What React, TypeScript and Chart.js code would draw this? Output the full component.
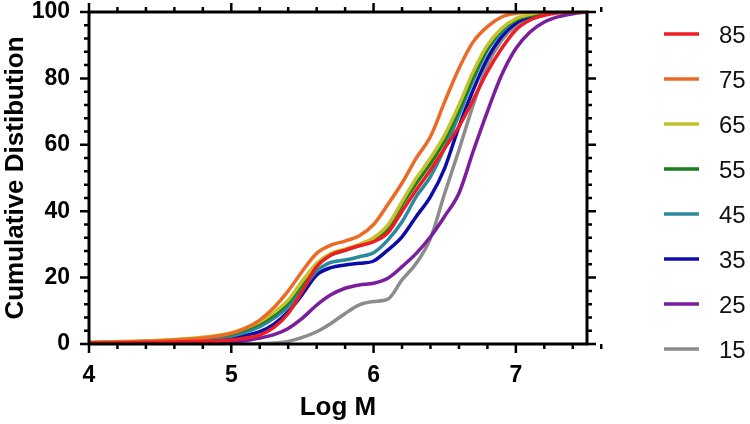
import React, { useEffect, useRef } from "react";
import { Chart, registerables } from "chart.js";

Chart.register(...registerables);

// Log M positions (x) shared by every series
const logM = [4.0, 4.5, 4.8, 5.0, 5.1, 5.2, 5.3, 5.4, 5.5, 5.6, 5.7, 5.8, 5.9, 6.0, 6.1, 6.2, 6.3, 6.4, 6.5, 6.6, 6.7, 6.8, 6.9, 7.0, 7.1, 7.2, 7.3, 7.4, 7.5];

const series85 = [0.3, 0.5, 0.8, 1.2, 1.8, 2.7, 5.0, 9.2, 16, 23.3, 26.8, 28.3, 29.6, 30.8, 33.5, 40, 46.4, 52.4, 59, 65.5, 73.5, 82, 89, 94.6, 97.6, 99, 99.8, 100, 100];
const series75 = [0.4, 1.0, 1.8, 3.2, 4.8, 7.2, 11, 16, 22, 27.3, 29.8, 31, 32.6, 36, 42, 48.5, 56, 62.5, 73, 83, 91, 95.6, 98.5, 99.6, 100, 100, 100, 100, 100];
const series65 = [0.5, 1.1, 2.0, 3.4, 4.8, 6.7, 9.5, 13.2, 19, 24.3, 27.3, 28.6, 30, 32, 35.8, 42.9, 49.9, 56, 63, 72, 82, 90, 95, 98, 99.3, 100, 100, 100, 100];
const series55 = [0.4, 1.0, 1.8, 3.0, 4.3, 6.2, 8.8, 12.5, 18, 23.5, 26.8, 28.2, 29.7, 31.3, 34.8, 41.9, 48.4, 54.4, 61.4, 70.5, 80.5, 89, 94.6, 97.6, 99, 99.8, 100, 100, 100];
const series45 = [0.4, 0.9, 1.5, 2.4, 3.6, 5.2, 7.8, 11.2, 16.5, 22, 24.6, 25.3, 26.3, 27.5, 31.3, 36.8, 44.4, 50.4, 59, 69, 79.5, 88.5, 94, 97.6, 99, 99.8, 100, 100, 100];
const series35 = [0.3, 0.7, 1.2, 1.9, 2.6, 3.7, 6, 9.7, 15, 20.8, 23, 23.8, 24.3, 25, 28.3, 32.3, 38.4, 44.4, 53, 65.5, 76.5, 86, 92.6, 96.6, 98.6, 99.6, 100, 100, 100];
const series25 = [0.2, 0.3, 0.5, 0.7, 1.0, 1.8, 2.8, 4.7, 7.8, 11.7, 14.8, 16.8, 17.8, 18.3, 19.8, 23.3, 27.3, 32.3, 38.5, 45.4, 58, 70, 81, 89, 94, 97, 98.6, 99.5, 100];
const series15 = [0, 0, 0, 0, 0, 0.1, 0.3, 0.8, 2, 3.7, 6.2, 9.2, 11.8, 12.8, 13.5, 19.3, 24.3, 31.8, 45.4, 58.4, 72, 84, 91.5, 96, 98.5, 99.6, 100, 100, 100];

const seriesLabels = ["85", "75", "65", "55", "45", "35", "25", "15"];
const seriesValues = [series85, series75, series65, series55, series45, series35, series25, series15];
const seriesColors = ["#ee1c24", "#ec6a26", "#c4c22c", "#1b7e1b", "#2a8a9e", "#0c0ca8", "#7a1e9e", "#8c8c8c"];

const xMin = 4;
const xMax = 7.5;
const xMajorStep = 1;
const xMinorStep = 0.2;
const yMin = 0;
const yMax = 100;
const yMajorStep = 20;
const yMinorStep = 4;

const FONT = '"Liberation Sans", Arial, Helvetica, sans-serif';

const framePlugin = {
  id: "frameTicks",
  afterDatasetsDraw(chart: any) {
    const { ctx, chartArea: a, scales } = chart;
    const x = scales.x;
    const y = scales.y;
    ctx.save();
    ctx.strokeStyle = "#000";
    ctx.lineWidth = 3;
    ctx.lineCap = "butt";
    ctx.strokeRect(a.left, a.top, a.right - a.left, a.bottom - a.top);
    ctx.lineWidth = 2.5;
    ctx.beginPath();
    const nx = Math.round((xMax - xMin) / xMinorStep);
    for (let i = 0; i <= nx; i++) {
      const v = xMin + i * xMinorStep;
      const major = Math.abs(v / xMajorStep - Math.round(v / xMajorStep)) < 1e-6;
      const px = x.getPixelForValue(v);
      const len = major ? 9 : 5;
      ctx.moveTo(px, a.bottom);
      ctx.lineTo(px, a.bottom + len);
      ctx.moveTo(px, a.top);
      ctx.lineTo(px, a.top - len);
    }
    const ny = Math.round((yMax - yMin) / yMinorStep);
    for (let i = 0; i <= ny; i++) {
      const v = yMin + i * yMinorStep;
      const major = Math.abs(v / yMajorStep - Math.round(v / yMajorStep)) < 1e-6;
      const py = y.getPixelForValue(v);
      const len = major ? 9 : 5;
      ctx.moveTo(a.left, py);
      ctx.lineTo(a.left - len, py);
      ctx.moveTo(a.right, py);
      ctx.lineTo(a.right + len, py);
    }
    ctx.stroke();
    ctx.restore();
  },
};

const legendPlugin = {
  id: "sideLegend",
  afterDraw(chart: any, _args: any, opts: any) {
    const { ctx } = chart;
    ctx.save();
    chart.data.datasets.forEach((ds: any, i: number) => {
      const yy = opts.top + i * opts.rowGap;
      ctx.strokeStyle = ds.borderColor;
      ctx.lineWidth = 3.5;
      ctx.beginPath();
      ctx.moveTo(opts.lineX, yy);
      ctx.lineTo(opts.lineX + opts.lineLen, yy);
      ctx.stroke();
      ctx.fillStyle = "#111";
      ctx.font = `${opts.fontSize}px ${FONT}`;
      ctx.textBaseline = "middle";
      ctx.textAlign = "left";
      ctx.fillText(ds.label, opts.textX, yy + 2);
    });
    ctx.restore();
  },
};

export default function App() {
  const ref = useRef<HTMLCanvasElement>(null);

  useEffect(() => {
    if (!ref.current) return;
    const datasets = seriesLabels.map((label, i) => ({
      label,
      data: logM.map((xv, j) => ({ x: xv, y: seriesValues[i][j] })),
      borderColor: seriesColors[i],
      backgroundColor: seriesColors[i],
      borderWidth: 3.5,
      pointRadius: 0,
      fill: false,
      cubicInterpolationMode: "monotone" as const,
    }));

    const chart = new Chart(ref.current, {
      type: "line",
      data: { datasets },
      plugins: [framePlugin, legendPlugin],
      options: {
        animation: false,
        responsive: true,
        maintainAspectRatio: false,
        layout: { padding: { top: 12, right: 163, bottom: 0, left: 0 } },
        plugins: {
          legend: { display: false },
          tooltip: { enabled: false },
          sideLegend: { top: 34, rowGap: 45, lineX: 664, lineLen: 35, textX: 719, fontSize: 24 },
        } as any,
        scales: {
          x: {
            type: "linear",
            min: xMin,
            max: xMax,
            grid: { display: false },
            border: { display: false },
            ticks: {
              stepSize: xMajorStep,
              includeBounds: false,
              color: "#000",
              padding: 12,
              maxRotation: 0,
              font: { family: FONT, size: 23, weight: "bold", lineHeight: 1 },
            },
            title: {
              display: true,
              text: "Log M",
              color: "#000",
              padding: { top: 0, bottom: 1 },
              font: { family: FONT, size: 26, weight: "bold", lineHeight: 1.2 },
            },
            afterFit: (s: any) => {
              s.height = 80;
              s.paddingLeft = 0;
              s.paddingRight = 0;
            },
          },
          y: {
            min: yMin,
            max: yMax,
            grid: { display: false },
            border: { display: false },
            ticks: {
              stepSize: yMajorStep,
              color: "#000",
              padding: 11,
              font: { family: FONT, size: 23, weight: "bold", lineHeight: 1 },
            },
            title: {
              display: true,
              text: "Cumulative Distibution",
              color: "#000",
              padding: { top: 0, bottom: 0 },
              font: { family: FONT, size: 26, weight: "bold", lineHeight: 1.2 },
            },
            afterFit: (s: any) => {
              s.width = 89;
              s.paddingTop = 0;
              s.paddingBottom = 0;
            },
          },
        },
      },
    });
    return () => chart.destroy();
  }, []);

  return (
    <div style={{ position: "fixed", left: 0, top: 0, width: 750, height: 424, background: "#fff" }}>
      <canvas ref={ref} />
    </div>
  );
}
